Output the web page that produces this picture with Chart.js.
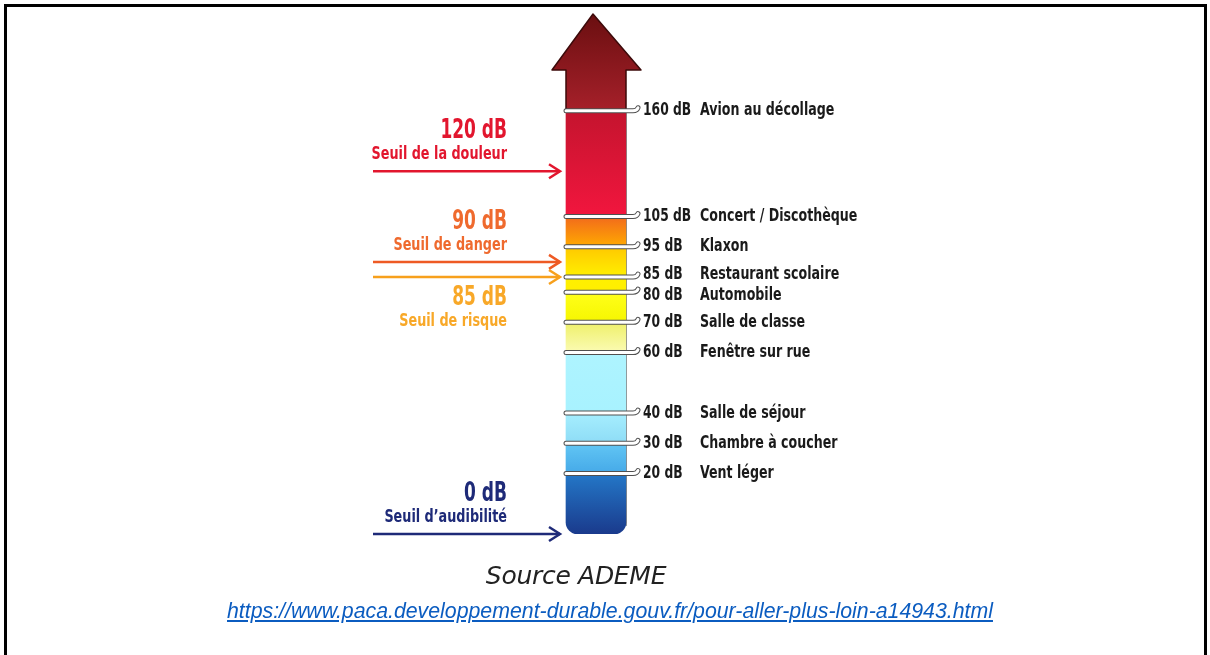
<!DOCTYPE html>
<html>
<head>
<meta charset="utf-8">
<script src="https://cdn.jsdelivr.net/npm/chart.js@4.4.1/dist/chart.umd.min.js"></script>
<style>
    html, body { margin: 0; padding: 0; background: #fff; }
    body { width: 1210px; height: 655px; position: relative; overflow: hidden; }
    #frame { position: absolute; left: 4px; top: 4px; width: 1197px; height: 700px; border: 3px solid #000; }
    #chart { position: absolute; left: 0; top: 0; }
    #source { position: absolute; left: 276px; width: 600px; top: 561px; text-align: center;
              font: oblique 25px "DejaVu Sans", sans-serif; color: #222; letter-spacing: -0.3px; }
    #link { position: absolute; left: 160px; width: 900px; top: 599px; text-align: center;
            font: italic 21.3px "Liberation Sans", Arial, sans-serif; color: #0b5cc0; text-decoration: underline; }
</style>
</head>
<body>
<div id="frame"></div>
<canvas id="chart" width="1210" height="655"></canvas>
<div id="source">Source ADEME</div>
<div id="link">https://www.paca.developpement-durable.gouv.fr/pour-aller-plus-loin-a14943.html</div>
<script>
// colour bands of the column (dB)
const bandLow  = [0, 20, 30, 40, 60, 70, 80, 85, 95, 105];
const bandHigh = [20, 30, 40, 60, 70, 80, 85, 95, 105, 160];

// sound levels listed on the right
const levelDb   = [160, 105, 95, 85, 80, 70, 60, 40, 30, 20];
const levelName = ['Avion au décollage', 'Concert / Discothèque', 'Klaxon', 'Restaurant scolaire',
                   'Automobile', 'Salle de classe', 'Fenêtre sur rue', 'Salle de séjour',
                   'Chambre à coucher', 'Vent léger'];

// thresholds on the left
const thresholdDb   = [120, 90, 85, 0];
const thresholdName = ['Seuil de la douleur', 'Seuil de danger', 'Seuil de risque', 'Seuil d’audibilité'];

// styles
const bandColors = [
    ['#2478c8', '#1a3a8c'],
    ['#62c6f4', '#45a9e8'],
    ['#a6eefe', '#8edcf6'],
    ['#aef4ff', '#a8f2ff'],
    ['#eef06a', '#fbfbb4'],
    ['#ffff1a', '#f6f600'],
    ['#fff000', '#ffef00'],
    ['#ffc800', '#fff000'],
    ['#f26a1c', '#ffaa00'],
    ['#c4142e', '#f2163e']
];
const thresholdColors = [['#e2162e', '#e2162e'], ['#ee5a24', '#ef6a2e'], ['#f7a01c', '#f8a828'], ['#1e2a78', '#1e2a78']];
const thresholdBelow = [false, false, true, false];
const FONT = '"DejaVu Sans Condensed", sans-serif';

// linear scale, compressed above a break value
class DbScale extends Chart.LinearScale {
    tr(v) {
        const b = this.options.breakAt, f = this.options.compress;
        return v <= b ? v : b + (v - b) * f;
    }
    getPixelForValue(v) {
        const t0 = this.tr(this.min), t1 = this.tr(this.max);
        return this.bottom - (this.tr(v) - t0) / (t1 - t0) * (this.bottom - this.top);
    }
    getValueForPixel(p) {
        const b = this.options.breakAt, f = this.options.compress;
        const t0 = this.tr(this.min), t1 = this.tr(this.max);
        const t = t0 + (this.bottom - p) / (this.bottom - this.top) * (t1 - t0);
        return t <= b ? t : b + (t - b) / f;
    }
}
DbScale.id = 'dbBreak';
DbScale.defaults = Chart.LinearScale.defaults;
Chart.register(DbScale);

// narrow text: the original uses a condensed face
function narrowText(ctx, text, x, y, font, sx, align) {
    ctx.save();
    ctx.font = font;
    ctx.textAlign = align;
    ctx.textBaseline = 'middle';
    ctx.translate(x, y);
    ctx.scale(sx, 1);
    ctx.fillText(text, 0, 0);
    ctx.restore();
}

const decorations = {
    id: 'decorations',
    afterDatasetsDraw(chart) {
        const ctx = chart.ctx, y = chart.scales.y, area = chart.chartArea;
        const cx = chart.scales.x.getPixelForValue(0);
        const xl = cx - 30, xr = cx + 30;

        // arrow top above 160 dB
        const yTop = y.getPixelForValue(160);
        const headBase = area.top + 56;
        const g = ctx.createLinearGradient(0, area.top, 0, yTop);
        g.addColorStop(0, '#6a0f10');
        g.addColorStop(1, '#a6202a');
        ctx.save();
        ctx.beginPath();
        ctx.moveTo(xl, yTop);
        ctx.lineTo(xl, headBase);
        ctx.lineTo(cx - 44, headBase);
        ctx.lineTo(cx - 3, area.top);
        ctx.lineTo(cx + 45, headBase);
        ctx.lineTo(xr, headBase);
        ctx.lineTo(xr, yTop);
        ctx.closePath();
        ctx.fillStyle = g;
        ctx.fill();
        ctx.lineJoin = 'round';
        ctx.strokeStyle = '#3c0a0a';
        ctx.lineWidth = 1.5;
        ctx.stroke();

        // right edge shade of the column
        ctx.strokeStyle = 'rgba(60,60,60,0.5)';
        ctx.lineWidth = 1;
        ctx.beginPath();
        ctx.moveTo(xr + 0.5, yTop);
        ctx.lineTo(xr + 0.5, y.getPixelForValue(0) - 8);
        ctx.stroke();

        // level ticks and labels
        const labelY = levelDb.map(v => y.getPixelForValue(v));
        for (let i = 1; i < labelY.length; i++) {
            if (labelY[i] - labelY[i - 1] < 21) {
                const d = (21 - (labelY[i] - labelY[i - 1])) / 2;
                labelY[i - 1] -= d;
                labelY[i] += d;
            }
        }
        levelDb.forEach((v, i) => {
            const py = y.getPixelForValue(v);
            const path = () => {
                ctx.beginPath();
                ctx.moveTo(xl, py);
                ctx.lineTo(xr + 7, py);
                ctx.quadraticCurveTo(xr + 11, py, xr + 12, py - 3);
            };
            ctx.lineCap = 'round';
            path();
            ctx.strokeStyle = '#505050';
            ctx.lineWidth = 5;
            ctx.stroke();
            path();
            ctx.strokeStyle = '#ffffff';
            ctx.lineWidth = 3;
            ctx.stroke();

            ctx.fillStyle = '#1a1a1a';
            narrowText(ctx, v + ' dB', xr + 17, labelY[i], 'bold 18px ' + FONT, 0.76, 'left');
            narrowText(ctx, levelName[i], xr + 74, labelY[i], 'bold 18px ' + FONT, 0.78, 'left');
        });

        // threshold arrows on the left
        thresholdDb.forEach((v, i) => {
            const py = y.getPixelForValue(v);
            const x0 = 373, x1 = xl - 6;
            ctx.strokeStyle = thresholdColors[i][0];
            ctx.lineWidth = 2.5;
            ctx.lineCap = 'butt';
            ctx.lineJoin = 'miter';
            ctx.beginPath();
            ctx.moveTo(x0, py);
            ctx.lineTo(x1, py);
            ctx.stroke();
            ctx.beginPath();
            ctx.moveTo(x1 - 11, py - 7);
            ctx.lineTo(x1, py);
            ctx.lineTo(x1 - 11, py + 7);
            ctx.stroke();

            const ty = thresholdBelow[i] ? py + 21 : py - 40;
            const ny = thresholdBelow[i] ? py + 44 : py - 17;
            ctx.fillStyle = thresholdColors[i][1];
            narrowText(ctx, v + ' dB', 507, ty, 'bold 27px ' + FONT, 0.7, 'right');
            narrowText(ctx, thresholdName[i], 507, ny, 'bold 18px ' + FONT, 0.79, 'right');
        });
        ctx.restore();
    }
};

const datasets = bandLow.map((low, i) => ({
    data: [[low, bandHigh[i]]],
    grouped: false,
    barThickness: 60,
    borderWidth: 0,
    borderSkipped: false,
    borderRadius: i === 0 ? { topLeft: 0, topRight: 0, bottomLeft: 12, bottomRight: 12 } : 0,
    backgroundColor: context => {
        const chart = context.chart;
        if (!chart.chartArea) return bandColors[i][1];
        const y = chart.scales.y;
        const grad = chart.ctx.createLinearGradient(0, y.getPixelForValue(bandHigh[i]), 0, y.getPixelForValue(low));
        grad.addColorStop(0, bandColors[i][0]);
        grad.addColorStop(1, bandColors[i][1]);
        return grad;
    }
}));

new Chart(document.getElementById('chart'), {
    type: 'bar',
    data: { labels: ['dB'], datasets: datasets },
    options: {
        responsive: false,
        animation: false,
        devicePixelRatio: 1,
        layout: { padding: { top: 14, bottom: 121, left: 0, right: 18 } },
        plugins: { legend: { display: false }, tooltip: { enabled: false } },
        scales: {
            x: { display: false },
            y: { type: 'dbBreak', min: 0, max: 224, breakAt: 120, compress: 0.5, display: false }
        }
    },
    plugins: [decorations]
});
</script>
</body>
</html>
